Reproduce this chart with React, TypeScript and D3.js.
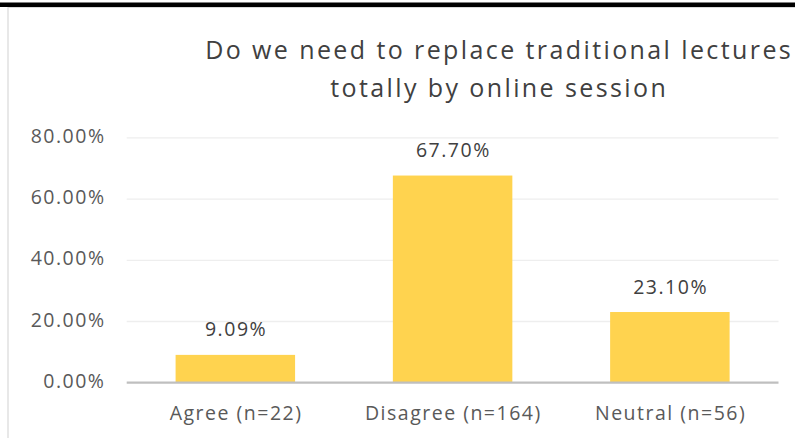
import React from "react";
import * as d3 from "d3";

const categories = ["Agree (n=22)", "Disagree (n=164)", "Neutral (n=56)"];
const values = [9.09, 67.7, 23.1];
const valueLabels = ["9.09%", "67.70%", "23.10%"];
const yTicks = [0, 20, 40, 60, 80];
const titleLines = ["Do we need to replace traditional lectures", "totally by online session"];

const W = 795;
const H = 438;
const FONT = "'Open Sans', 'Noto Sans', sans-serif";
const LBL = 19.5;
const LS = 1.5;
const TLS = 2.4;

export default function App() {
  const x = d3.scaleBand<string>().domain(categories).range([126.7, 778.5]).paddingInner(0.45).paddingOuter(0.225);
  const y = d3.scaleLinear().domain([0, 80]).range([382.7, 137.9]);

  return (
    <svg width={W} height={H} style={{ position: "absolute", left: 0, top: 0, background: "#fff" }}>
      <rect x={0} y={0} width={W} height={H} fill="#fff" />
      <rect x={0} y={2.5} width={W} height={4.5} fill="#000" />
      <line x1={8} y1={7.5} x2={W} y2={7.5} stroke="#d9d9d9" strokeWidth={1} />
      <line x1={8} y1={7} x2={8} y2={H} stroke="#d9d9d9" strokeWidth={1.2} />
      <text fontFamily={FONT} fontSize={25} fill="#404040" textAnchor="middle" letterSpacing={TLS}>
        {titleLines.map((t, i) => (
          <tspan key={i} x={498 + TLS / 2} y={58.5 + i * 38.5}>{t}</tspan>
        ))}
      </text>
      {yTicks.filter((t) => t > 0).map((t) => (
        <line key={t} x1={126.7} x2={778.5} y1={y(t)} y2={y(t)} stroke="#eeeeee" strokeWidth={1.3} />
      ))}
      {yTicks.map((t) => (
        <text key={"l" + t} x={104 + LS} y={y(t) + 5} textAnchor="end" fontFamily={FONT} fontSize={LBL} fill="#595959" letterSpacing={LS}>
          {d3.format(".2f")(t) + "%"}
        </text>
      ))}
      {categories.map((c, i) => (
        <g key={c}>
          <rect x={x(c)} y={y(values[i])} width={x.bandwidth()} height={y(0) - y(values[i])} fill="#FFD34F" />
          <text x={(x(c) as number) + x.bandwidth() / 2 + LS / 2} y={y(values[i]) - 18.5} textAnchor="middle" fontFamily={FONT} fontSize={LBL} fill="#404040" letterSpacing={LS}>
            {valueLabels[i]}
          </text>
          <text x={(x(c) as number) + x.bandwidth() / 2 + LS / 2} y={420} textAnchor="middle" fontFamily={FONT} fontSize={LBL} fill="#595959" letterSpacing={LS}>
            {c}
          </text>
        </g>
      ))}
      <line x1={126.7} x2={778.5} y1={y(0)} y2={y(0)} stroke="#bfbfbf" strokeWidth={2.2} />
    </svg>
  );
}
